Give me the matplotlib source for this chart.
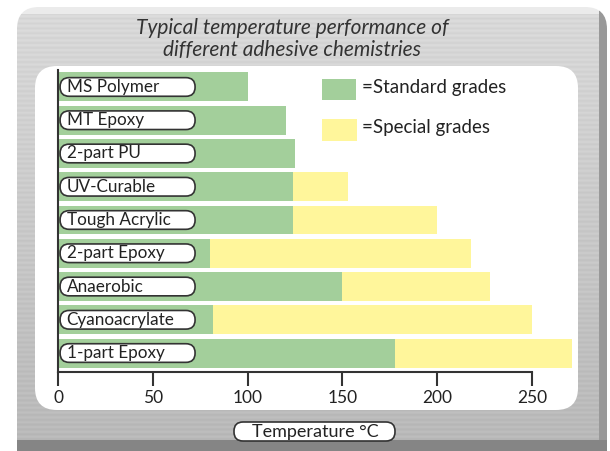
import numpy as np
import matplotlib.pyplot as plt
from matplotlib.patches import FancyBboxPatch

# data (deg C)
chemistries = ['MS Polymer', 'MT Epoxy', '2-part PU', 'UV-Curable', 'Tough Acrylic',
               '2-part Epoxy', 'Anaerobic', 'Cyanoacrylate', '1-part Epoxy']
standard = [100, 120, 125, 124, 124, 80, 150, 82, 178]
special_max = [100, 120, 125, 153, 200, 218, 228, 250, 271]
xticks = [0, 50, 100, 150, 200, 250]

green = '#a3cf9b'
yellow = '#fff69b'
font = ['Lato', 'DejaVu Sans']

W, H = 610, 451
fig = plt.figure(figsize=(W / 100, H / 100), dpi=100)
fig.patch.set_facecolor('white')

# metallic gray frame, built per pixel row / column
bg = fig.add_axes([0, 0, 1, 1])
bg.set_xlim(0, W)
bg.set_ylim(H, 0)
bg.axis('off')
fy = np.arange(7, 451)
fx = np.arange(17, 607)
shade = 0.85 - 0.13 * (fy - 7) / 444 + 0.015 * np.sin(fy * 1.3)
shade[fy < 14] = 0.92
shade[fy >= 440] = 0.52
img = np.repeat(shade[:, None], len(fx), axis=1)
right = fx >= 599
img[:, right] = np.minimum(img[:, right], 0.6)
frame = FancyBboxPatch((17, 7), 590, 470, boxstyle='round,pad=0,rounding_size=22',
                       fc='none', ec='none')
bg.add_patch(frame)
im = bg.imshow(img, cmap='gray', vmin=0, vmax=1, extent=(17, 607, 451, 7),
               aspect='auto', interpolation='bilinear')
im.set_clip_path(frame)

panel = FancyBboxPatch((35, 66), 543, 344, boxstyle='round,pad=0,rounding_size=22',
                       fc='white', ec='none')
bg.add_patch(panel)

bg.text(292, 28, 'Typical temperature performance of', ha='center', va='center',
        fontsize=15, style='italic', color='#333333', family=font)
bg.text(292, 50, 'different adhesive chemistries', ha='center', va='center',
        fontsize=15, style='italic', color='#333333', family=font)

# x axis label in a pill box
lab = FancyBboxPatch((234, 422), 161, 19, boxstyle='round,pad=0,rounding_size=9',
                     fc='white', ec='#333333', lw=1.2)
bg.add_patch(lab)
bg.text(315, 431.5, 'Temperature °C', ha='center', va='center', fontsize=13,
        color='#222222', family=font)

# legend
bg.add_patch(plt.Rectangle((322, 79), 34, 21, fc=green, ec='none'))
bg.add_patch(plt.Rectangle((322, 119), 35, 22, fc=yellow, ec='none'))
bg.text(362, 88, '=Standard grades', ha='left', va='center', fontsize=13.5,
        color='#222222', family=font)
bg.text(362, 128, '=Special grades', ha='left', va='center', fontsize=13.5,
        color='#222222', family=font)

# main chart axes
x0, x1 = 58, 58 + 275 * 1.896
y_top, y_bot = 70, 372
ax = fig.add_axes([x0 / W, (H - y_bot) / H, (x1 - x0) / W, (y_bot - y_top) / H])
ax.patch.set_alpha(0)
ypos = np.arange(len(chemistries))[::-1]
extra = [m - s for m, s in zip(special_max, standard)]
ax.barh(ypos, standard, height=0.87, color=green, zorder=1)
ax.barh(ypos, extra, left=standard, height=0.87, color=yellow, zorder=1)
ax.set_xlim(0, 275)
ax.set_ylim(-0.57, 8.51)

for s in ['top', 'right']:
    ax.spines[s].set_visible(False)
ax.spines['left'].set_color('#333333')
ax.spines['bottom'].set_color('#333333')
ax.spines['left'].set_linewidth(1.5)
ax.spines['bottom'].set_linewidth(1.5)
ax.spines['bottom'].set_bounds(0, 250)
ax.set_yticks([])
ax.set_xticks(xticks)
ax.tick_params(axis='x', length=10, width=1.5, color='#333333', labelsize=12.5,
               labelcolor='#222222', pad=3)
for t in ax.get_xticklabels():
    t.set_family(font)

# category labels in pill boxes
pxx = 1.896
pxy = (y_bot - y_top) / (8.51 + 0.57)
for name, y in zip(chemistries, ypos):
    box = FancyBboxPatch((1.1, y - 0.28), 71.2, 0.56,
                         boxstyle='round,pad=0,rounding_size=4.8',
                         mutation_aspect=pxx / pxy, fc='white', ec='#333333',
                         lw=1.2, zorder=3)
    ax.add_patch(box)
    ax.text(4.5, y, name, ha='left', va='center', fontsize=12.3, color='#222222',
            family=font, zorder=4)

fig.savefig('out.png', dpi=100)
